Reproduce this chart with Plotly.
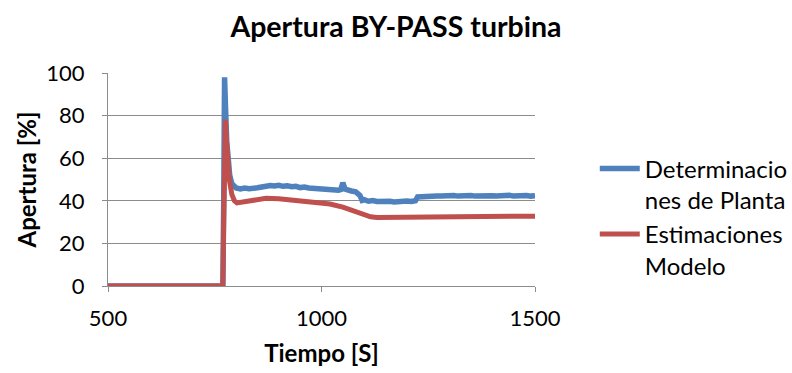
import plotly.graph_objects as go

# Modelo: tiempo [s] y apertura estimada [%]
t_modelo = [500, 769, 771, 773, 775, 777, 780, 784, 790, 796, 802, 815, 840, 870,
            900, 940, 980, 1020, 1050, 1080, 1100, 1115, 1130, 1200, 1300, 1400, 1500]
ap_modelo = [0, 0, 30, 70, 78, 70, 60, 50, 43, 40, 39, 39.5, 40.6, 41.2,
             41, 40.3, 39.5, 38.5, 37, 35, 33.5, 32.5, 32.2, 32.3, 32.5, 32.7, 32.8]

# Planta: tiempo [s] y apertura medida [%]
t_planta = [500, 769, 771, 772, 773, 775, 778, 781, 785, 790, 795, 800,
            810, 820, 830, 840, 850, 860, 870, 880, 890, 900, 910, 920, 930, 940,
            950, 960, 970, 980, 990, 1000, 1010, 1020, 1030, 1040, 1045, 1050, 1055,
            1060, 1070, 1080, 1085, 1090, 1095, 1100, 1110, 1120, 1130, 1140, 1150,
            1160, 1170, 1180, 1190, 1200, 1210, 1220, 1225, 1230, 1240, 1250, 1260,
            1270, 1280, 1290, 1300, 1310, 1320, 1330, 1340, 1350, 1360, 1370, 1380,
            1390, 1400, 1410, 1420, 1430, 1440, 1450, 1460, 1470, 1480, 1490, 1500]
ap_planta = [0, 0, 40, 90, 98, 85, 68, 58, 52, 48, 46.5, 46,
             45.6, 46.0, 45.7, 46.2, 46.1, 46.5, 46.9, 47.2, 47.0, 47.3, 46.8, 47.1, 46.6, 46.8,
             46.2, 46.5, 46.0, 45.8, 46.1, 45.5, 45.8, 45.2, 45.4, 45.0, 45.3, 48.5, 45.5,
             45.0, 44.6, 44.2, 43.5, 42.5, 40.2, 40.5, 39.8, 40.1, 39.7, 39.9, 39.6,
             39.8, 39.5, 39.8, 39.6, 39.9, 39.7, 40.0, 41.8, 41.9, 41.8, 42.1, 41.9,
             42.3, 42.2, 42.4, 42.3, 42.5, 42.2, 42.4, 42.3, 42.5, 42.2, 42.4, 42.1,
             42.3, 42.4, 42.2, 42.5, 42.3, 42.6, 42.2, 42.4, 42.1, 42.5, 42.2, 42.4]

x_ticks = [500, 1000, 1500]
y_ticks = [0, 20, 40, 60, 80, 100]

FONT = "Lato"
GRID = "#8c8c8c"

fig = go.Figure()
fig.add_trace(go.Scatter(
    x=t_planta, y=ap_planta, mode="lines",
    name="Determinacio<br>nes de Planta",
    line=dict(color="#4F81BD", width=5.5),
))
fig.add_trace(go.Scatter(
    x=t_modelo, y=ap_modelo, mode="lines",
    name="Estimaciones<br>Modelo",
    line=dict(color="#C0504D", width=5),
))

fig.update_layout(
    width=792, height=373,
    margin=dict(l=108, r=257, t=73, b=87, autoexpand=False),
    paper_bgcolor="white", plot_bgcolor="white",
    font=dict(family=FONT, color="black", size=22),
    title=dict(text="<b>Apertura BY-PASS turbina</b>", x=0.5, xanchor="center",
               y=0.928, yanchor="middle", font=dict(size=28.5, family=FONT)),
    showlegend=True,
    legend=dict(x=1.14, y=0.655, xanchor="left", yanchor="top", valign="top",
                font=dict(size=24, family=FONT), tracegroupgap=0,
                bgcolor="rgba(0,0,0,0)", itemwidth=40),
)
fig.update_xaxes(
    range=[500, 1500], tickvals=x_ticks, ticks="outside", ticklen=5,
    tickcolor=GRID, showline=True, linecolor=GRID, linewidth=1,
    showgrid=False, zeroline=False, ticklabelstandoff=8,
    title=dict(text="<b>Tiempo [S]</b>", font=dict(size=24), standoff=14),
    tickfont=dict(size=22),
)
fig.update_yaxes(
    range=[0, 100], tickvals=y_ticks, ticks="outside", ticklen=5,
    tickcolor=GRID, showline=True, linecolor=GRID, linewidth=1,
    showgrid=True, gridcolor=GRID, gridwidth=1, zeroline=False,
    ticklabelstandoff=13,
    title=dict(text="<b>Apertura [%]</b>", font=dict(size=24), standoff=2),
    tickfont=dict(size=22),
)

fig.write_html("out.html")
